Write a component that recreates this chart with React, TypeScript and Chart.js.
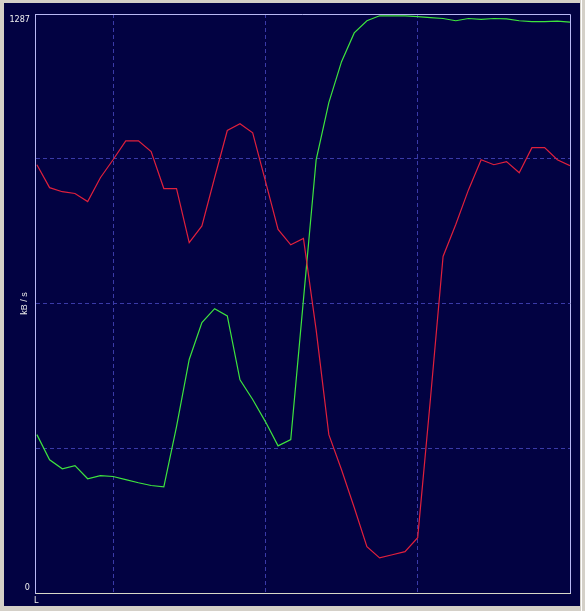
import React, { useEffect, useRef } from 'react';
import { Chart, registerables } from 'chart.js';

Chart.register(...registerables);

// sample index (one sample per step)
const samples = [0, 1, 2, 3, 4, 5, 6, 7, 8, 9, 10, 11, 12, 13, 14, 15, 16, 17, 18, 19, 20, 21, 22, 23, 24, 25, 26, 27, 28, 29, 30, 31, 32, 33, 34, 35, 36, 37, 38, 39, 40, 41, 42];

// kB/s
const redSeries = [952, 901, 892, 888, 870, 923, 963, 1005, 1005, 981, 899, 899, 779, 816, 923, 1028, 1043, 1023, 916, 808, 774, 788, 585, 352, 274, 190, 103, 78, 85, 92, 123, 430, 748, 819, 896, 963, 952, 959, 934, 990, 990, 963, 950];
const greenSeries = [352, 296, 276, 283, 254, 261, 259, 252, 245, 239, 236, 370, 519, 601, 632, 616, 474, 430, 381, 327, 341, 652, 963, 1090, 1181, 1245, 1272, 1283, 1283, 1283, 1281, 1279, 1277, 1272, 1277, 1275, 1277, 1276, 1272, 1270, 1270, 1271, 1269];

const yMax = 1287;
const yTickLabels = ['0', '1287'];
const yGridValues = [321.75, 643.5, 965.25];
const xGridValues = [6, 18, 30];
const xMin = -0.15;
const xMax = 42;
const yTitle = 'kB / s';
const xStubLabel = 'L';

const NAVY = '#020242';
const FRAME = '#d4d0c8';
const GRID = '#3a3aa8';
const AXIS = '#b8b8f4';
const NUM_FONT = '9px "Liberation Sans Narrow", "DejaVu Sans Condensed", "Liberation Sans", sans-serif';

const framePlugin = {
  id: 'frame',
  beforeDraw(chart: any) {
    const { ctx, width, height } = chart;
    ctx.save();
    ctx.fillStyle = FRAME;
    ctx.fillRect(0, 0, width, height);
    ctx.fillStyle = NAVY;
    ctx.fillRect(4, 3, width - 9, height - 8);
    ctx.fillStyle = '#ffffff';
    ctx.fillRect(width - 4, 0, 1, height);
    ctx.restore();
  },
  beforeDatasetsDraw(chart: any) {
    const { ctx, chartArea } = chart;
    ctx.save();
    ctx.strokeStyle = AXIS;
    ctx.lineWidth = 1;
    ctx.beginPath();
    ctx.moveTo(chartArea.left, chartArea.top + 0.5);
    ctx.lineTo(chartArea.right + 0.5, chartArea.top + 0.5);
    ctx.lineTo(chartArea.right + 0.5, chartArea.bottom);
    ctx.stroke();
    ctx.restore();
  },
  afterDraw(chart: any) {
    const { ctx, chartArea } = chart;
    ctx.save();
    ctx.fillStyle = '#f0f0f0';
    ctx.font = NUM_FONT;
    ctx.textAlign = 'right';
    ctx.textBaseline = 'alphabetic';
    ctx.fillText(yTickLabels[1], chartArea.left - 5, chartArea.top + 7.5);
    ctx.fillText(yTickLabels[0], chartArea.left - 5, chartArea.bottom - 3.5);
    ctx.textAlign = 'left';
    ctx.fillText(xStubLabel, chartArea.left - 1, chartArea.bottom + 9.5);
    ctx.restore();
  },
};

export default function App() {
  const ref = useRef<HTMLCanvasElement | null>(null);

  useEffect(() => {
    document.body.style.margin = '0';
    const canvas = ref.current;
    if (!canvas) return;
    const chart = new Chart(canvas, {
      type: 'line',
      data: {
        datasets: [
          {
            label: 'red',
            data: samples.map((s, i) => ({ x: s, y: redSeries[i] })),
            borderColor: '#e0203c',
            borderWidth: 1.2,
            pointRadius: 0,
            tension: 0,
            fill: false,
          },
          {
            label: 'green',
            data: samples.map((s, i) => ({ x: s, y: greenSeries[i] })),
            borderColor: '#3ee43e',
            borderWidth: 1.2,
            pointRadius: 0,
            tension: 0,
            fill: false,
          },
        ],
      },
      plugins: [framePlugin],
      options: {
        animation: false,
        responsive: false,
        devicePixelRatio: 1,
        layout: { padding: { left: 0, top: 14, right: 15, bottom: 0 } },
        plugins: { legend: { display: false }, tooltip: { enabled: false } },
        scales: {
          x: {
            type: 'linear',
            min: xMin,
            max: xMax,
            afterBuildTicks: (scale: any) => {
              scale.ticks = xGridValues.map((v) => ({ value: v }));
            },
            afterFit: (scale: any) => {
              scale.height = 18;
            },
            ticks: { display: false },
            grid: { color: GRID, lineWidth: 1, drawTicks: false },
            border: { display: true, color: '#d8d8c8', width: 1, dash: [4, 3] },
          },
          y: {
            type: 'linear',
            min: 0,
            max: yMax,
            afterBuildTicks: (scale: any) => {
              scale.ticks = yGridValues.map((v) => ({ value: v }));
            },
            afterFit: (scale: any) => {
              scale.width = 35;
            },
            ticks: { display: false },
            grid: { color: GRID, lineWidth: 1, drawTicks: false },
            border: { display: true, color: AXIS, width: 1, dash: [4, 3] },
            title: {
              display: true,
              text: yTitle,
              color: '#e8e8e8',
              font: { family: '"Liberation Sans", sans-serif', size: 9 },
              padding: { top: 19, bottom: 0 },
            },
          },
        },
      },
    } as any);
    return () => chart.destroy();
  }, []);

  return (
    <div style={{ width: 585, height: 611 }}>
      <canvas ref={ref} width={585} height={611} style={{ display: 'block' }} />
    </div>
  );
}
